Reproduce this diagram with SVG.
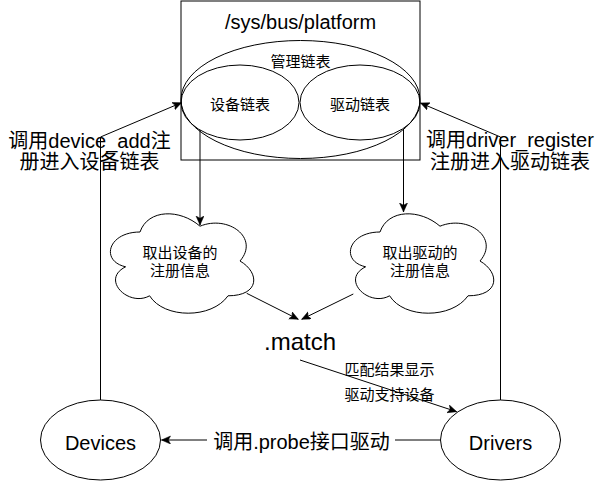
<svg xmlns="http://www.w3.org/2000/svg" width="602" height="482" viewBox="0 0 602 482">
<style>
  .shape { fill: #ffffff; stroke: #000000; stroke-width: 1; }
  .none { fill: none; stroke: #000000; stroke-width: 1; }
  .edge { fill: none; stroke: #000000; stroke-width: 1; }
  text { font-family: "Liberation Sans", Arial, "Noto Sans CJK SC", sans-serif; fill: #000000; text-anchor: middle; }
  .t20 { font-size: 20px; }
  .t24 { font-size: 24px; }
  .t15 { font-size: 15px; }
</style>
<defs>
  <marker id="arrow" markerUnits="userSpaceOnUse" markerWidth="10" markerHeight="9" refX="9" refY="4" orient="auto">
    <path d="M0,0 L9,4 L0,8 L2.2,4 Z" fill="#000000" stroke="#000000" stroke-width="0.5"/>
  </marker>
</defs>
<rect width="602" height="482" fill="#ffffff"/>

<g id="platform">
  <rect class="shape" x="181" y="1" width="239" height="159"/>
  <text class="t20" x="300.5" y="28.5">/sys/bus/platform</text>
</g>
<g id="manage-list">
  <ellipse class="none" cx="300.5" cy="99.5" rx="119.5" ry="59"/>
  <text class="t15" x="300.5" y="66.5">管理链表</text>
</g>
<g id="device-list">
  <ellipse class="none" cx="240" cy="102.5" rx="59" ry="37.5"/>
  <text class="t15" x="240" y="109.8">设备链表</text>
</g>
<g id="driver-list">
  <ellipse class="none" cx="360" cy="102.5" rx="60" ry="37.5"/>
  <text class="t15" x="360" y="109.8">驱动链表</text>
</g>
<g id="device-info">
  <path class="shape" d="M140,232 C108,232 100,261 125.6,266.8 C100,279.56 128.8,307.4 149.6,295.8 C164,319 212,319 228,295.8 C260,295.8 260,272.6 240,261 C260,237.8 228,214.6 200,226.2 C180,208.8 148,208.8 140,232 Z"/>
  <text class="t15" x="180" y="257.6">取出设备的</text>
  <text class="t15" x="180" y="276.4">注册信息</text>
</g>
<g id="driver-info">
  <path class="shape" d="M380,232 C348,232 340,261 365.6,266.8 C340,279.56 368.8,307.4 389.6,295.8 C404,319 452,319 468,295.8 C500,295.8 500,272.6 480,261 C500,237.8 468,214.6 440,226.2 C420,208.8 388,208.8 380,232 Z"/>
  <text class="t15" x="420" y="257.6">取出驱动的</text>
  <text class="t15" x="420" y="276.4">注册信息</text>
</g>
<g id="match">
  <text class="t24" x="300" y="349.5">.match</text>
</g>
<g id="devices">
  <ellipse class="shape" cx="100.5" cy="440" rx="60" ry="40"/>
  <text class="t20" x="100.5" y="449.5">Devices</text>
</g>
<g id="drivers">
  <ellipse class="shape" cx="500.5" cy="440" rx="60" ry="40"/>
  <text class="t20" x="500.5" y="449.5">Drivers</text>
</g>

<g id="connectors">
  <path class="edge" d="M200,130 L200,225" marker-end="url(#arrow)"/>
  <path class="edge" d="M403.5,129 L403.5,212" marker-end="url(#arrow)"/>
  <path class="edge" d="M246.7,293.3 L298.3,319.3" marker-end="url(#arrow)"/>
  <path class="edge" d="M353.3,294 L301.7,319.3" marker-end="url(#arrow)"/>
  <path class="edge" d="M300,360 L456.7,411.7" marker-end="url(#arrow)"/>
  <path class="edge" d="M100.5,400 L100.5,137 L181.5,102.7" marker-end="url(#arrow)"/>
  <path class="edge" d="M500.5,400 L500.5,137 L420.5,103" marker-end="url(#arrow)"/>
  <path class="edge" d="M440.5,440 L161.5,440" marker-end="url(#arrow)"/>
  <rect x="207" y="429" width="188" height="22" fill="#ffffff"/>
  <text class="t20" x="301.5" y="449">调用.probe接口驱动</text>
  <text class="t20" x="89.5" y="147.7">调用device_add注</text>
  <text class="t20" x="89.5" y="169.4">册进入设备链表</text>
  <text class="t20" x="510" y="147.4">调用driver_register</text>
  <text class="t20" x="510" y="169.4">注册进入驱动链表</text>
  <text class="t15" x="389.5" y="374.8">匹配结果显示</text>
  <text class="t15" x="389.5" y="399.8">驱动支持设备</text>
</g>
</svg>
